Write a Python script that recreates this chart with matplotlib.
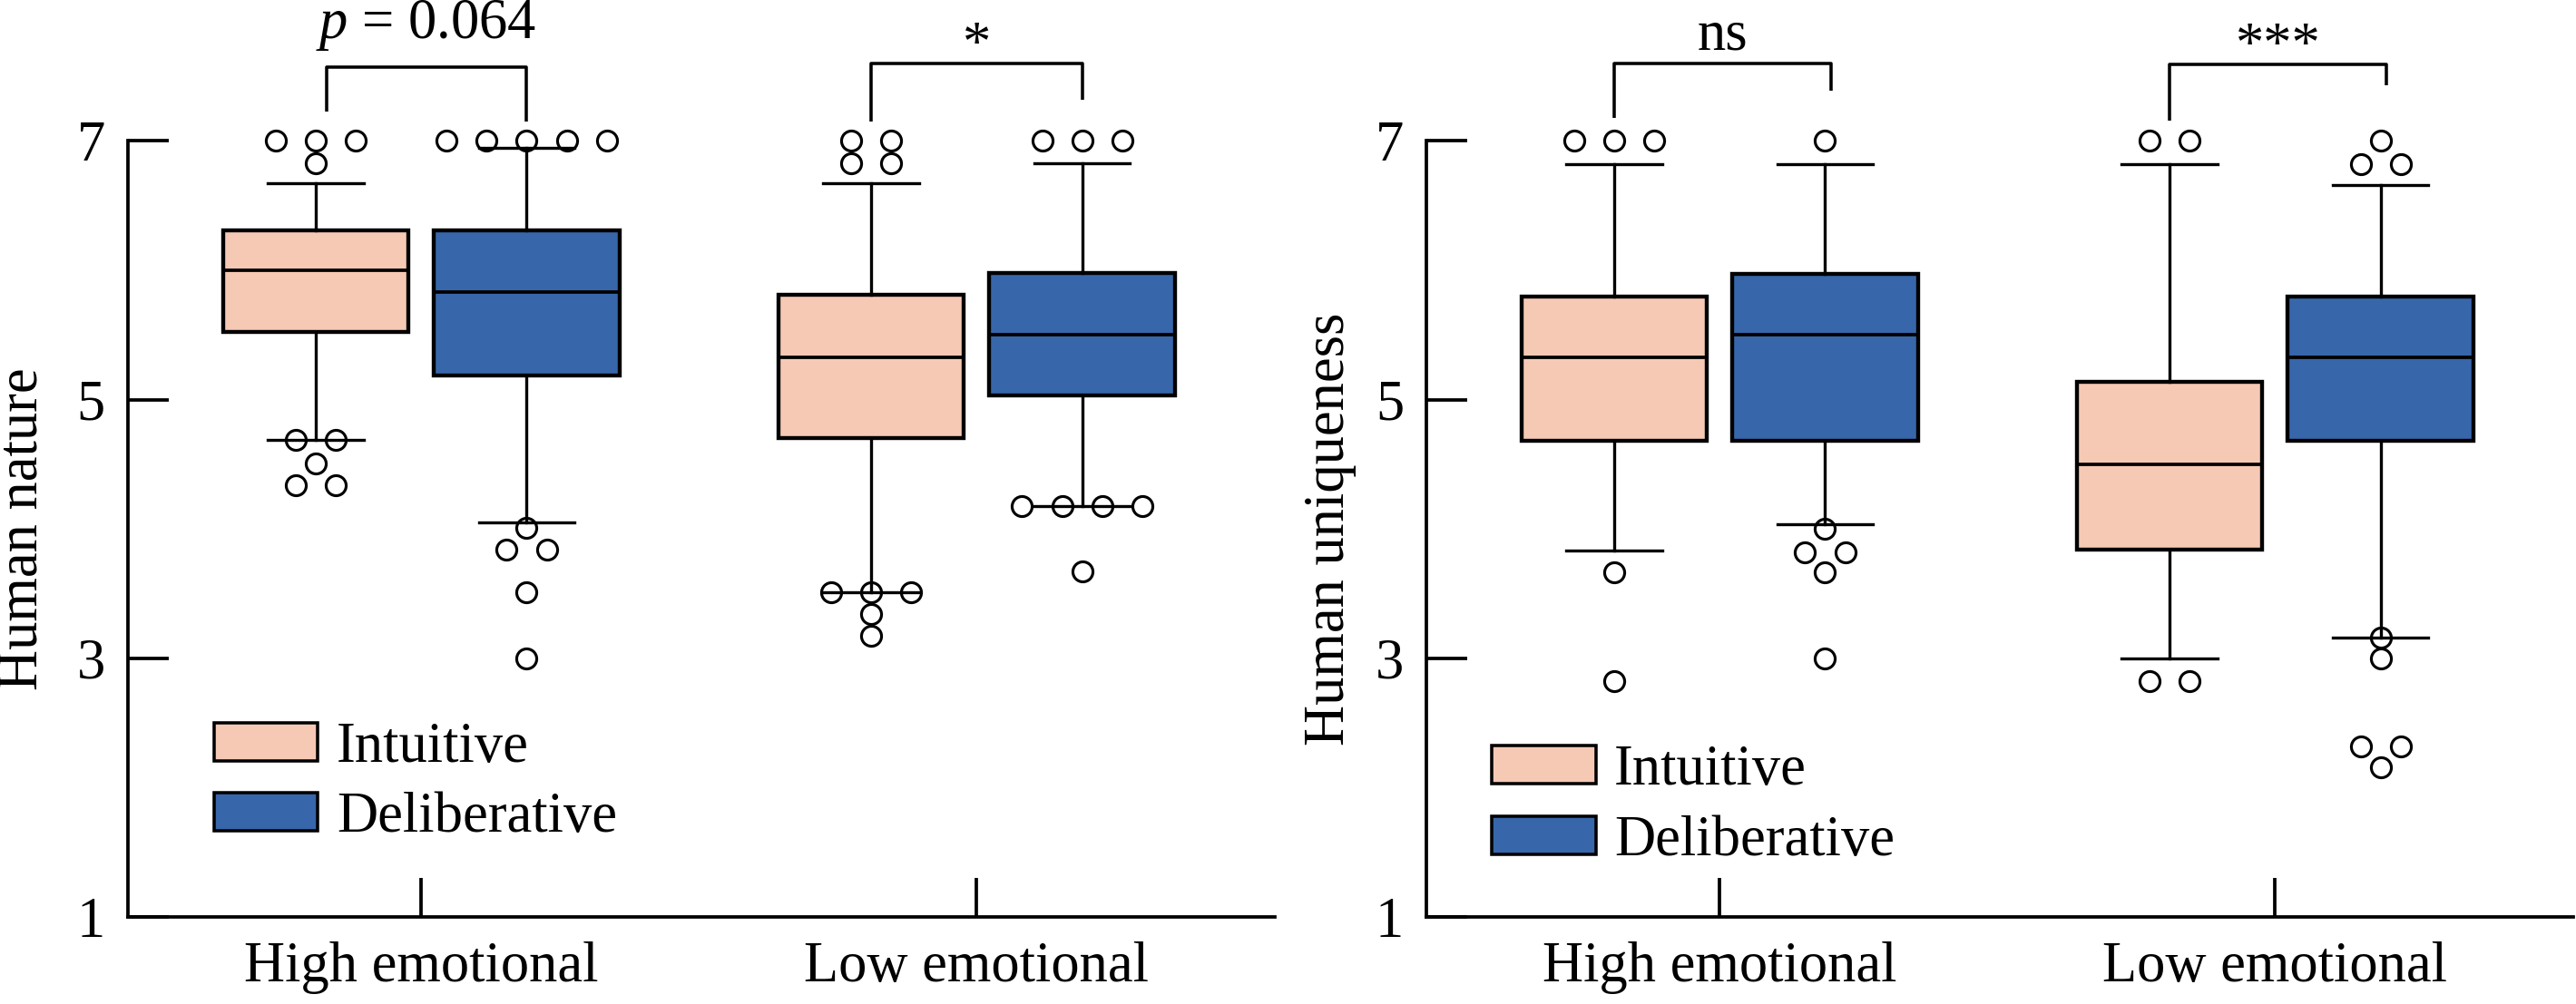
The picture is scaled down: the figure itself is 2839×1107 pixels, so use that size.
import matplotlib
matplotlib.use('Agg')
import matplotlib.pyplot as plt
from matplotlib.patches import Patch
import numpy as np

plt.rcParams['font.family'] = ['Liberation Serif', 'DejaVu Serif']
plt.rcParams['mathtext.fontset'] = 'custom'
plt.rcParams['mathtext.rm'] = 'Liberation Serif'
plt.rcParams['mathtext.it'] = 'Liberation Serif:italic'

# ---------------- data ----------------
categories = ['High emotional', 'Low emotional']
conditions = ['Intuitive', 'Deliberative']
colors = ['#F6C9B5', '#3767AA']
yticks = [1, 3, 5, 7]

# Human nature (left panel); each list = [High emotional, Low emotional]
nature_q1 = {'Intuitive': [5.52, 4.70], 'Deliberative': [5.19, 5.03]}
nature_med = {'Intuitive': [6.00, 5.33], 'Deliberative': [5.83, 5.50]}
nature_q3 = {'Intuitive': [6.31, 5.81], 'Deliberative': [6.31, 5.98]}
nature_wlo = {'Intuitive': [4.69, 3.51], 'Deliberative': [4.05, 4.18]}
nature_whi = {'Intuitive': [6.67, 6.67], 'Deliberative': [6.945, 6.83]}
nature_fliers = {
    'Intuitive': [[7, 7, 7, 6.83, 4.69, 4.69, 4.51, 4.34, 4.34],
                  [7, 7, 6.83, 6.83, 3.51, 3.51, 3.51, 3.34, 3.175]],
    'Deliberative': [[7, 7, 7, 7, 7, 4.01, 3.84, 3.84, 3.51, 3.0],
                     [7, 7, 7, 4.18, 4.18, 4.18, 4.18, 3.67]],
}

# Human uniqueness (right panel)
unique_q1 = {'Intuitive': [4.68, 3.84], 'Deliberative': [4.68, 4.68]}
unique_med = {'Intuitive': [5.33, 4.50], 'Deliberative': [5.50, 5.33]}
unique_q3 = {'Intuitive': [5.80, 5.14], 'Deliberative': [5.97, 5.80]}
unique_wlo = {'Intuitive': [3.83, 3.0], 'Deliberative': [4.04, 3.16]}
unique_whi = {'Intuitive': [6.82, 6.82], 'Deliberative': [6.82, 6.66]}
unique_fliers = {
    'Intuitive': [[7, 7, 7, 3.665, 2.825],
                  [7, 7, 2.825, 2.825]],
    'Deliberative': [[7, 4.0, 3.82, 3.82, 3.665, 3.0],
                     [7, 6.82, 6.82, 3.16, 3.0, 2.32, 2.32, 2.16]],
}

# significance annotations: (label, left leg bottom, top, right leg bottom)
nature_sig = [(r'$p$ = 0.064', 7.23, 7.57, 7.15), ('*', 7.15, 7.60, 7.32)]
unique_sig = [('ns', 7.18, 7.60, 7.39), ('***', 7.16, 7.59, 7.43)]

# ---------------- style ----------------
FS = 15
OFF = 0.19
BOXW = 0.334
CAPW = 0.172
FLIER_STEP = 0.072
LW = 0.9

fig = plt.figure(figsize=(2839 / 300, 1107 / 300), dpi=300)
ax_left = fig.add_axes([141 / 2839, 0.0867, 1264 / 2839, 0.9133])
ax_right = fig.add_axes([1572 / 2839, 0.0867, 1264 / 2839, 0.9133])


def flier_offsets(vals, step):
    vals = np.asarray(vals, dtype=float)
    offs = np.zeros(len(vals))
    used = np.zeros(len(vals), dtype=bool)
    for i, v in enumerate(vals):
        if used[i]:
            continue
        idx = np.where(np.isclose(vals, v) & ~used)[0]
        used[idx] = True
        n = len(idx)
        offs[idx] = (np.arange(n) - (n - 1) / 2) * step
    return offs


def draw_panel(ax, q1, med, q3, wlo, whi, fliers, sig, ylabel, leg_anchor,
               ylab_x, bracket_dx):
    for ci, cond in enumerate(conditions):
        stats = []
        for k in range(len(categories)):
            stats.append(dict(med=med[cond][k], q1=q1[cond][k], q3=q3[cond][k],
                              whislo=wlo[cond][k], whishi=whi[cond][k],
                              fliers=[]))
        pos = np.arange(len(categories)) + (-OFF if ci == 0 else OFF)
        ax.bxp(stats, positions=pos, widths=BOXW, capwidths=CAPW,
               patch_artist=True, showfliers=False, manage_ticks=False,
               boxprops=dict(facecolor=colors[ci], edgecolor='black', linewidth=1.05),
               medianprops=dict(color='black', linewidth=0.9),
               whiskerprops=dict(color='black', linewidth=0.8),
               capprops=dict(color='black', linewidth=0.8))
        for k in range(len(categories)):
            fv = np.asarray(fliers[cond][k], dtype=float)
            fx = pos[k] + flier_offsets(fv, FLIER_STEP)
            ax.plot(fx, fv, linestyle='none', marker='o', markersize=5.3,
                    markerfacecolor='none', markeredgecolor='black',
                    markeredgewidth=0.75, clip_on=False, zorder=5)
    # significance brackets
    for k, (lab, yl, yt, yr) in enumerate(sig):
        x1 = k - OFF + bracket_dx[k][0]
        x2 = k + OFF + bracket_dx[k][1]
        ax.plot([x1, x1, x2, x2], [yl, yt, yt, yr], color='black',
                linewidth=0.85, clip_on=False, solid_capstyle='butt')
        if lab.startswith('*'):
            ax.text((x1 + x2) / 2, yt + 0.02, lab, ha='center', va='baseline',
                    fontsize=FS)
        elif lab == 'ns':
            ax.text((x1 + x2) / 2, yt + 0.11, lab, ha='center', va='baseline',
                    fontsize=FS)
        else:
            ax.text((x1 + x2) / 2, yt + 0.225, lab, ha='center', va='baseline',
                    fontsize=FS)

    ax.set_xlim(-0.528, 1.537)
    ax.set_ylim(1, 8.09)
    ax.set_xticks(range(len(categories)))
    ax.set_xticklabels(categories, fontsize=FS)
    ax.set_yticks(yticks)
    ax.set_yticklabels([str(t) for t in yticks], fontsize=FS)
    ax.tick_params(axis='y', direction='in', length=10.8, width=LW, pad=6)
    ax.tick_params(axis='x', direction='in', length=10.3, width=LW, pad=6.5)
    for s in ['top', 'right']:
        ax.spines[s].set_visible(False)
    ax.spines['left'].set_bounds(1, 7)
    ax.spines['left'].set_linewidth(LW)
    ax.spines['bottom'].set_linewidth(LW)
    ax.set_ylabel(ylabel, fontsize=FS)
    ax.yaxis.set_label_coords(ylab_x, (4 - 1) / (8.09 - 1))
    handles = [Patch(facecolor=colors[i], edgecolor='black', linewidth=0.85,
                     label=conditions[i]) for i in range(len(conditions))]
    ax.legend(handles=handles, loc='upper left', bbox_to_anchor=leg_anchor,
              bbox_transform=ax.transData, frameon=False, fontsize=FS,
              borderpad=0, borderaxespad=0, handlelength=1.83,
              handleheight=0.66, handletextpad=0.33, labelspacing=0.31)


draw_panel(ax_left, nature_q1, nature_med, nature_q3, nature_wlo, nature_whi,
           nature_fliers, nature_sig, 'Human nature', (-0.373, 2.51),
           -0.0688, [(0.019, 0.0), (0.0, 0.0)])
draw_panel(ax_right, unique_q1, unique_med, unique_q3, unique_wlo, unique_whi,
           unique_fliers, unique_sig, 'Human uniqueness', (-0.41, 2.33),
           -0.061, [(0.0, 0.01), (0.0, 0.01)])

fig.savefig('out.png', dpi=300)
